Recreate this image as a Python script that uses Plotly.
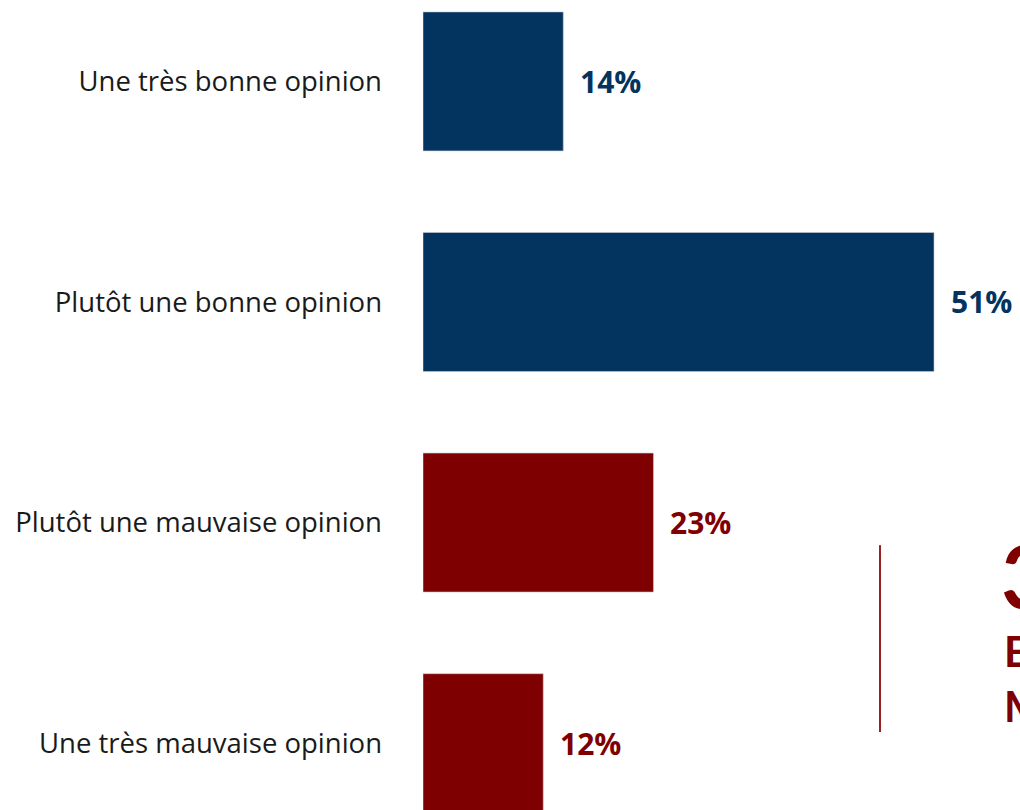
import plotly.graph_objects as go

categories = ["Une très bonne opinion", "Plutôt une bonne opinion",
              "Plutôt une mauvaise opinion", "Une très mauvaise opinion"]
values = [14, 51, 23, 12]
colors = ["#02345F", "#02345F", "#7F0000", "#7F0000"]
value_labels = ["14%", "51%", "23%", "12%"]
callout_number = "35%"
callout_lines = ["ENSEMBLE", "MAUVAISE"]

fig = go.Figure()
fig.add_trace(go.Bar(
    y=categories, x=values, orientation="h",
    marker=dict(color=colors, line=dict(color="rgba(200,200,210,0.6)", width=1)),
    width=0.63, hoverinfo="skip", showlegend=False,
))

for cat, v, lab, col in zip(categories, values, value_labels, colors):
    fig.add_annotation(x=v, y=cat, xref="x", yref="y", text=f"<b>{lab}</b>",
                       showarrow=False, xanchor="left", yanchor="middle", xshift=15,
                       font=dict(family="Open Sans", size=30, color=col))

red = "#7F0000"
fig.add_shape(type="line", xref="paper", yref="paper",
              x0=0.7655, x1=0.7655, y0=0.0963, y1=0.327,
              line=dict(color="#9B2020", width=2))
fig.add_annotation(xref="paper", yref="paper", x=0.9648, y=0.358, xanchor="left", yanchor="top",
                   text=f"<b>{callout_number}</b>", showarrow=False,
                   font=dict(family="Lato", size=88, color=red))
fig.add_annotation(xref="paper", yref="paper", x=0.97, y=0.23, xanchor="left", yanchor="top",
                   text="<b>" + "<br>".join(callout_lines) + "</b>", showarrow=False, align="left",
                   font=dict(family="Lato", size=42, color=red))

fig.update_layout(
    width=1020, height=810,
    margin=dict(l=423, r=0, t=0, b=0),
    paper_bgcolor="white", plot_bgcolor="white",
    bargap=0.37,
    xaxis=dict(range=[0, 597 / 10.02], visible=False, fixedrange=True),
    yaxis=dict(categoryorder="array", categoryarray=categories,
               range=[3.303, -0.369], showgrid=False, zeroline=False, showline=False,
               ticks="", ticklabelstandoff=40,
               tickfont=dict(family="Open Sans", size=27.5, color="#1a1a1a")),
)

fig.write_html("out.html")
